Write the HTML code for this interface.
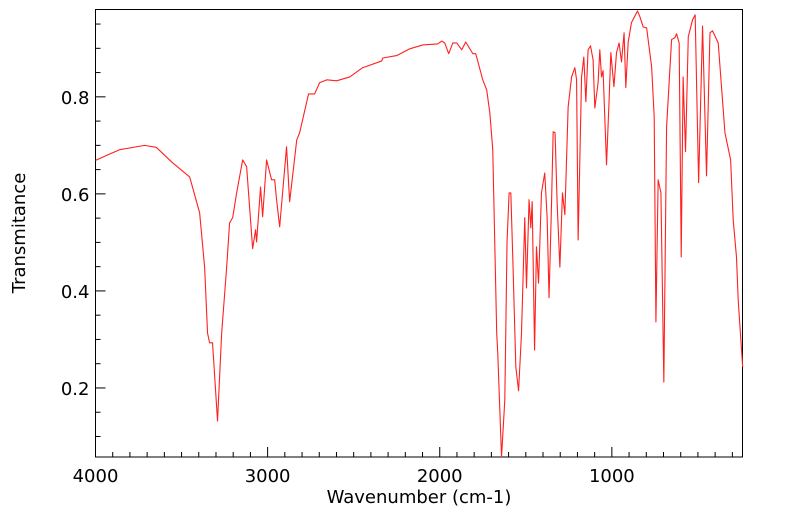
<!DOCTYPE html>
<html><head><meta charset="utf-8"><style>
html,body{margin:0;padding:0;background:#fff;}
svg{display:block;font-family:"DejaVu Sans","Liberation Sans",sans-serif;}
</style></head><body>
<svg id="chart" width="799" height="516" viewBox="0 0 799 516" xmlns="http://www.w3.org/2000/svg">
<rect x="95.5" y="9.5" width="647" height="447.5" fill="none" stroke="#000" stroke-width="1"/>
<g id="ticks"></g>
<g id="labels" font-size="18" fill="#000"></g>
<text x="419" y="503" font-size="18" text-anchor="middle">Wavenumber (cm-1)</text>
<text transform="translate(25,233) rotate(-90)" font-size="18" text-anchor="middle">Transmitance</text>
<path id="spectrum" fill="none" stroke="#ff2020" stroke-width="1.1" stroke-linejoin="round"/>
</svg>
<script>
const wavenumbers = [4000,3919,3860,3715,3647,3552,3453,3395,3366,3349,3337,3320,3291,3267,3238,3221,3203,3180,3145,3122,3087,3070,3064,3041,3029,3006,2977,2959,2948,2930,2890,2872,2831,2814,2762,2727,2698,2657,2599,2523,2448,2337,2331,2250,2174,2099,2012,1988,1971,1948,1924,1901,1872,1849,1808,1791,1750,1727,1709,1692,1669,1663,1641,1622,1609,1597,1587,1574,1558,1542,1525,1506,1496,1481,1471,1463,1449,1438,1426,1409,1390,1376,1365,1351,1341,1330,1318,1302,1287,1273,1254,1234,1215,1205,1196,1176,1163,1151,1138,1124,1109,1099,1080,1070,1060,1051,1031,1016,1006,988,973,958,944,929,919,905,886,851,837,818,798,769,754,744,731,715,698,682,653,634,624,609,597,586,572,556,531,516,496,473,450,430,415,382,343,310,295,276,266,240];
const transmittance = [0.669,0.682,0.691,0.700,0.696,0.664,0.635,0.561,0.449,0.313,0.293,0.293,0.132,0.313,0.449,0.540,0.551,0.602,0.670,0.656,0.487,0.526,0.501,0.614,0.553,0.670,0.629,0.629,0.588,0.532,0.697,0.584,0.711,0.726,0.806,0.806,0.829,0.835,0.833,0.841,0.860,0.874,0.880,0.885,0.899,0.907,0.909,0.915,0.911,0.889,0.911,0.911,0.897,0.913,0.889,0.889,0.835,0.814,0.767,0.691,0.313,0.272,0.058,0.175,0.501,0.602,0.602,0.449,0.243,0.194,0.313,0.551,0.406,0.588,0.530,0.584,0.278,0.491,0.416,0.602,0.643,0.551,0.386,0.573,0.728,0.726,0.581,0.449,0.602,0.557,0.779,0.841,0.860,0.835,0.505,0.841,0.882,0.790,0.897,0.905,0.876,0.777,0.829,0.897,0.841,0.854,0.660,0.794,0.891,0.821,0.891,0.911,0.872,0.932,0.819,0.913,0.953,0.977,0.965,0.944,0.942,0.862,0.759,0.336,0.629,0.602,0.212,0.738,0.918,0.922,0.930,0.911,0.470,0.841,0.687,0.924,0.959,0.969,0.623,0.946,0.637,0.932,0.936,0.911,0.726,0.670,0.546,0.470,0.381,0.243];
const xTickLabels = [4000,3000,2000,1000];
const yTickLabels = ["0.2","0.4","0.6","0.8"];

const X0=95.5, X1=742.5, Y0=9.5, Y1=457;
const WMAX=4000, WMIN=241, TMAX=0.980, TMIN=0.0577;
function xs(w){return X0+(WMAX-w)/(WMAX-WMIN)*(X1-X0);}
function ys(t){return Y1-(t-TMIN)/(TMAX-TMIN)*(Y1-Y0);}

const NS="http://www.w3.org/2000/svg";
let d="";
for(let i=0;i<wavenumbers.length;i++){d+=(i?"L":"M")+xs(wavenumbers[i]).toFixed(2)+","+ys(transmittance[i]).toFixed(2);}
document.getElementById("spectrum").setAttribute("d",d);

const tg=document.getElementById("ticks"), lg=document.getElementById("labels");
for(let w=4000; w>=300; w-=100){
  const major=(w%1000===0);
  const l=document.createElementNS(NS,"line");
  
  
  const x=xs(w);
  l.setAttribute("x1",x);l.setAttribute("x2",x);l.setAttribute("y1",Y1);l.setAttribute("y2",Y1-(major?10:5));
  l.setAttribute("stroke","#000");
  tg.appendChild(l);
}
for(let k=2;k<=19;k++){
  const t=k*0.05;
  if(t>TMAX)break;
  const major=(k%4===0);
  const l=document.createElementNS(NS,"line");
  
  
  const y=ys(t);
  l.setAttribute("x1",X0);l.setAttribute("x2",X0+(major?10:5));l.setAttribute("y1",y);l.setAttribute("y2",y);
  l.setAttribute("stroke","#000");
  tg.appendChild(l);
}
xTickLabels.forEach(v=>{
  const t=document.createElementNS(NS,"text");
  
  
  t.setAttribute("x",xs(v));t.setAttribute("y",Y1+25);t.setAttribute("text-anchor","middle");
  t.textContent=v;lg.appendChild(t);
});
yTickLabels.forEach(v=>{
  const t=document.createElementNS(NS,"text");
  
  
  t.setAttribute("x",X0-6);t.setAttribute("y",ys(parseFloat(v))+7);t.setAttribute("text-anchor","end");
  t.textContent=v;lg.appendChild(t);
});
</script>
</body></html>
